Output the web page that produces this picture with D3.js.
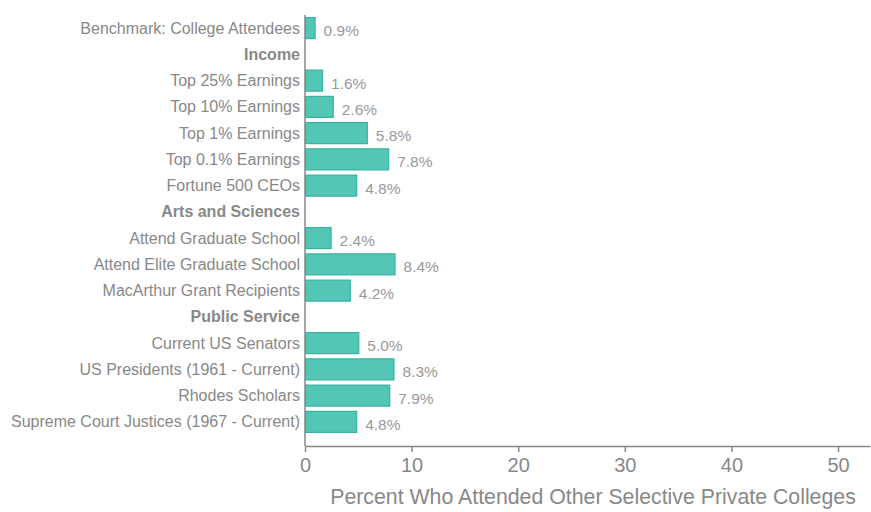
<!DOCTYPE html>
<html><head><meta charset="utf-8">
<script src="https://cdn.jsdelivr.net/npm/d3@7"></script>
<style>body{margin:0;background:#fff;}svg{display:block;font-family:"Liberation Sans",Arial,sans-serif;}</style>
</head><body><svg id="c" width="871" height="512"></svg>
<script>
const categories = ["Benchmark: College Attendees","Income","Top 25% Earnings","Top 10% Earnings","Top 1% Earnings","Top 0.1% Earnings","Fortune 500 CEOs","Arts and Sciences","Attend Graduate School","Attend Elite Graduate School","MacArthur Grant Recipients","Public Service","Current US Senators","US Presidents (1961 - Current)","Rhodes Scholars","Supreme Court Justices (1967 - Current)"];
const values = [0.9,null,1.6,2.6,5.8,7.8,4.8,null,2.4,8.4,4.2,null,5.0,8.3,7.9,4.8];
const headers = ["Income","Arts and Sciences","Public Service"];
const xTicks = [0,10,20,30,40,50];
const xTitle = "Percent Who Attended Other Selective Private Colleges";

(function(){
const svg = d3.select("#c");
const mLeft = 305, mRight = 870, mTop = 15, mBottom = 446;
const x = d3.scaleLinear().domain([0,53]).range([mLeft,mRight]);
const y = d3.scaleBand().domain(categories).range([mTop,435]).paddingInner(0.2).paddingOuter(0.1);
const grey = "#888";

const data = categories.map((c,i)=>({c,v:values[i]})).filter(d=>d.v!==null);
svg.append("g").selectAll("rect").data(data).join("rect")
  .attr("x",x(0)+0.5).attr("y",d=>y(d.c)).attr("width",d=>x(d.v)-x(0))
  .attr("height",y.bandwidth()).attr("fill","#54c6b5").attr("stroke","#36b3a1").attr("stroke-width",1.2);

svg.append("g").selectAll("text").data(data).join("text")
  .attr("x",d=>x(d.v)+9).attr("y",d=>y(d.c)+y.bandwidth()/2+8)
  .attr("font-size",15.5).attr("fill","#999").text(d=>d.v.toFixed(1)+"%");

svg.append("g").selectAll("text").data(categories).join("text")
  .attr("x",mLeft-5).attr("y",d=>y(d)+y.bandwidth()/2+5.5)
  .attr("text-anchor","end").attr("font-size",16)
  .attr("font-weight",d=>headers.includes(d)?"bold":"normal")
  .attr("fill",grey).text(d=>d);

svg.append("line").attr("x1",mLeft).attr("x2",mLeft).attr("y1",mTop).attr("y2",mBottom).attr("stroke",grey).attr("stroke-width",1.5);

const xa = svg.append("g").attr("transform",`translate(0,${mBottom})`)
  .call(d3.axisBottom(x).tickValues(xTicks).tickSize(6).tickPadding(6).tickSizeOuter(0));
xa.select(".domain").attr("stroke",grey).attr("stroke-width",1.5);
xa.selectAll(".tick line").attr("stroke",grey).attr("stroke-width",1.5);
xa.selectAll(".tick text").attr("fill",grey).attr("font-size",20).attr("font-family","Liberation Sans, Arial, sans-serif");

svg.append("text").attr("x",593).attr("y",504).attr("text-anchor","middle")
  .attr("font-size",21.3).attr("fill",grey).text(xTitle);
})();
</script></body></html>
